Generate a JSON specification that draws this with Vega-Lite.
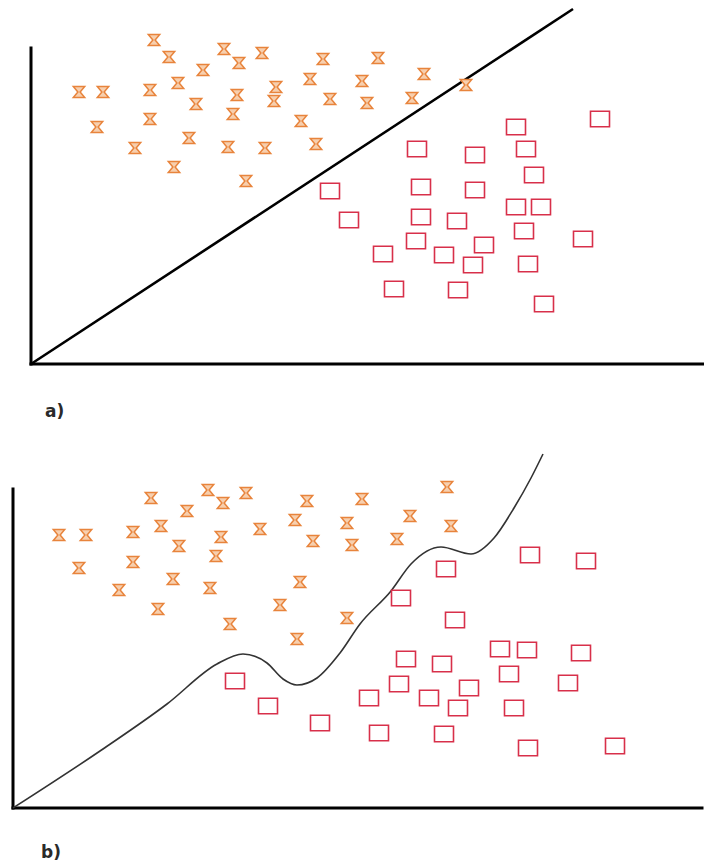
{
  "$schema": "https://vega.github.io/schema/vega-lite/v6.json",
  "padding": {"left": 9, "top": 3, "right": 0, "bottom": 0},
  "background": "white",
  "spacing": 89,
  "bounds": "flush",
  "config": {"view": {"stroke": null}},
  "datasets": {
    "axesA": [{"x": 0, "y": 0, "x2": 0, "y2": 316}, {"x": 0, "y": 0, "x2": 673, "y2": 0}],
    "axesB": [{"x": 0, "y": 0, "x2": 0, "y2": 319}, {"x": 0, "y": 0, "x2": 689, "y2": 0}],
    "boundaryA": [{"x": 0, "y": 0}, {"x": 542, "y": 355}],
    "boundaryB": [
      {"x": 0, "y": 0}, {"x": 87, "y": 57}, {"x": 154, "y": 104}, {"x": 204, "y": 144},
      {"x": 230, "y": 154}, {"x": 254, "y": 145}, {"x": 270, "y": 129}, {"x": 284, "y": 123},
      {"x": 304, "y": 130}, {"x": 327, "y": 155}, {"x": 347, "y": 184}, {"x": 378, "y": 217},
      {"x": 398, "y": 244}, {"x": 428, "y": 261}, {"x": 458, "y": 254}, {"x": 481, "y": 270},
      {"x": 501, "y": 300}, {"x": 518, "y": 330}, {"x": 530, "y": 354}
    ],
    "crossA": [
      {"x": 123, "y": 324}, {"x": 138, "y": 307}, {"x": 193, "y": 315}, {"x": 208, "y": 301},
      {"x": 231, "y": 311}, {"x": 172, "y": 294}, {"x": 292, "y": 305}, {"x": 147, "y": 281},
      {"x": 279, "y": 285}, {"x": 245, "y": 277}, {"x": 206, "y": 269}, {"x": 243, "y": 263},
      {"x": 299, "y": 265}, {"x": 331, "y": 283}, {"x": 48, "y": 272}, {"x": 72, "y": 272},
      {"x": 119, "y": 274}, {"x": 165, "y": 260}, {"x": 119, "y": 245}, {"x": 202, "y": 250},
      {"x": 270, "y": 243}, {"x": 66, "y": 237}, {"x": 158, "y": 226}, {"x": 104, "y": 216},
      {"x": 197, "y": 217}, {"x": 234, "y": 216}, {"x": 285, "y": 220}, {"x": 143, "y": 197},
      {"x": 215, "y": 183}, {"x": 347, "y": 306}, {"x": 393, "y": 290}, {"x": 336, "y": 261},
      {"x": 381, "y": 266}, {"x": 435, "y": 279}
    ],
    "squareA": [
      {"x": 569, "y": 245}, {"x": 485, "y": 237}, {"x": 386, "y": 215}, {"x": 444, "y": 209},
      {"x": 495, "y": 215}, {"x": 503, "y": 189}, {"x": 390, "y": 177}, {"x": 444, "y": 174},
      {"x": 485, "y": 157}, {"x": 510, "y": 157}, {"x": 318, "y": 144}, {"x": 299, "y": 173},
      {"x": 390, "y": 147}, {"x": 426, "y": 143}, {"x": 493, "y": 133}, {"x": 552, "y": 125},
      {"x": 385, "y": 123}, {"x": 352, "y": 110}, {"x": 413, "y": 109}, {"x": 453, "y": 119},
      {"x": 442, "y": 99}, {"x": 497, "y": 100}, {"x": 363, "y": 75}, {"x": 427, "y": 74},
      {"x": 513, "y": 60}
    ],
    "crossB": [
      {"x": 138, "y": 310}, {"x": 195, "y": 318}, {"x": 210, "y": 305}, {"x": 233, "y": 315},
      {"x": 174, "y": 297}, {"x": 294, "y": 307}, {"x": 349, "y": 309}, {"x": 282, "y": 288},
      {"x": 334, "y": 285}, {"x": 46, "y": 273}, {"x": 73, "y": 273}, {"x": 120, "y": 276},
      {"x": 148, "y": 282}, {"x": 208, "y": 271}, {"x": 247, "y": 279}, {"x": 166, "y": 262},
      {"x": 300, "y": 267}, {"x": 339, "y": 263}, {"x": 203, "y": 252}, {"x": 66, "y": 240},
      {"x": 120, "y": 246}, {"x": 160, "y": 229}, {"x": 287, "y": 226}, {"x": 106, "y": 218},
      {"x": 197, "y": 220}, {"x": 145, "y": 199}, {"x": 267, "y": 203}, {"x": 334, "y": 190},
      {"x": 217, "y": 184}, {"x": 284, "y": 169}, {"x": 434, "y": 321}, {"x": 397, "y": 292},
      {"x": 438, "y": 282}, {"x": 384, "y": 269}
    ],
    "squareB": [
      {"x": 222, "y": 127}, {"x": 255, "y": 102}, {"x": 307, "y": 85}, {"x": 356, "y": 110},
      {"x": 517, "y": 253}, {"x": 573, "y": 247}, {"x": 433, "y": 239}, {"x": 388, "y": 210},
      {"x": 442, "y": 188}, {"x": 487, "y": 159}, {"x": 514, "y": 158}, {"x": 568, "y": 155},
      {"x": 393, "y": 149}, {"x": 429, "y": 144}, {"x": 496, "y": 134}, {"x": 555, "y": 125},
      {"x": 386, "y": 124}, {"x": 456, "y": 120}, {"x": 416, "y": 110}, {"x": 445, "y": 100},
      {"x": 501, "y": 100}, {"x": 366, "y": 75}, {"x": 431, "y": 74}, {"x": 515, "y": 60},
      {"x": 602, "y": 62}
    ],
    "labelA": [{"x": 14, "y": -53, "label": "a)"}],
    "labelB": [{"x": 28, "y": -50, "label": "b)"}]
  },
  "vconcat": [
    {
      "width": 691,
      "height": 355,
      "layer": [
        {
          "data": {"name": "axesA"},
          "mark": {"type": "rule", "color": "#000000", "strokeWidth": 3, "strokeCap": "square"},
          "encoding": {
            "x": {"field": "x", "type": "quantitative", "scale": {"domain": [-18, 673]}, "axis": null},
            "y": {"field": "y", "type": "quantitative", "scale": {"domain": [0, 355]}, "axis": null},
            "x2": {"field": "x2"},
            "y2": {"field": "y2"}
          }
        },
        {
          "data": {"name": "boundaryA"},
          "mark": {"type": "line", "color": "#000000", "strokeWidth": 2.6},
          "encoding": {
            "x": {"field": "x", "type": "quantitative", "scale": {"domain": [-18, 673]}, "axis": null},
            "y": {"field": "y", "type": "quantitative", "scale": {"domain": [0, 355]}, "axis": null}
          }
        },
        {
          "data": {"name": "crossA"},
          "mark": {"type": "point", "shape": "M-1,-0.95H1L0.2,0L1,0.95H-1L-0.2,0Z", "size": 130, "filled": true, "fill": "#f7cfae", "stroke": "#e8843c", "strokeWidth": 1.5, "opacity": 1},
          "encoding": {
            "x": {"field": "x", "type": "quantitative", "scale": {"domain": [-18, 673]}, "axis": null},
            "y": {"field": "y", "type": "quantitative", "scale": {"domain": [0, 355]}, "axis": null}
          }
        },
        {
          "data": {"name": "squareA"},
          "mark": {"type": "point", "shape": "M-1,-0.82H1V0.82H-1Z", "size": 361, "filled": false, "stroke": "#d8304a", "strokeWidth": 1.6, "opacity": 1},
          "encoding": {
            "x": {"field": "x", "type": "quantitative", "scale": {"domain": [-18, 673]}, "axis": null},
            "y": {"field": "y", "type": "quantitative", "scale": {"domain": [0, 355]}, "axis": null}
          }
        },
        {
          "data": {"name": "labelA"},
          "mark": {"type": "text", "align": "left", "baseline": "alphabetic", "font": "DejaVu Sans", "fontWeight": "bold", "fontSize": 17, "color": "#2a2a2a"},
          "encoding": {
            "x": {"field": "x", "type": "quantitative", "scale": {"domain": [-18, 673]}, "axis": null},
            "y": {"field": "y", "type": "quantitative", "scale": {"domain": [0, 355]}, "axis": null},
            "text": {"field": "label"}
          }
        }
      ]
    },
    {
      "width": 691,
      "height": 355,
      "layer": [
        {
          "data": {"name": "axesB"},
          "mark": {"type": "rule", "color": "#000000", "strokeWidth": 3, "strokeCap": "square"},
          "encoding": {
            "x": {"field": "x", "type": "quantitative", "scale": {"domain": [0, 691]}, "axis": null},
            "y": {"field": "y", "type": "quantitative", "scale": {"domain": [0, 355]}, "axis": null},
            "x2": {"field": "x2"},
            "y2": {"field": "y2"}
          }
        },
        {
          "data": {"name": "boundaryB"},
          "mark": {"type": "line", "color": "#333333", "strokeWidth": 1.6, "interpolate": "monotone"},
          "encoding": {
            "x": {"field": "x", "type": "quantitative", "scale": {"domain": [0, 691]}, "axis": null},
            "y": {"field": "y", "type": "quantitative", "scale": {"domain": [0, 355]}, "axis": null}
          }
        },
        {
          "data": {"name": "crossB"},
          "mark": {"type": "point", "shape": "M-1,-0.95H1L0.2,0L1,0.95H-1L-0.2,0Z", "size": 130, "filled": true, "fill": "#f7cfae", "stroke": "#e8843c", "strokeWidth": 1.5, "opacity": 1},
          "encoding": {
            "x": {"field": "x", "type": "quantitative", "scale": {"domain": [0, 691]}, "axis": null},
            "y": {"field": "y", "type": "quantitative", "scale": {"domain": [0, 355]}, "axis": null}
          }
        },
        {
          "data": {"name": "squareB"},
          "mark": {"type": "point", "shape": "M-1,-0.82H1V0.82H-1Z", "size": 361, "filled": false, "stroke": "#d8304a", "strokeWidth": 1.6, "opacity": 1},
          "encoding": {
            "x": {"field": "x", "type": "quantitative", "scale": {"domain": [0, 691]}, "axis": null},
            "y": {"field": "y", "type": "quantitative", "scale": {"domain": [0, 355]}, "axis": null}
          }
        },
        {
          "data": {"name": "labelB"},
          "mark": {"type": "text", "align": "left", "baseline": "alphabetic", "font": "DejaVu Sans", "fontWeight": "bold", "fontSize": 17, "color": "#2a2a2a"},
          "encoding": {
            "x": {"field": "x", "type": "quantitative", "scale": {"domain": [0, 691]}, "axis": null},
            "y": {"field": "y", "type": "quantitative", "scale": {"domain": [0, 355]}, "axis": null},
            "text": {"field": "label"}
          }
        }
      ]
    }
  ]
}
